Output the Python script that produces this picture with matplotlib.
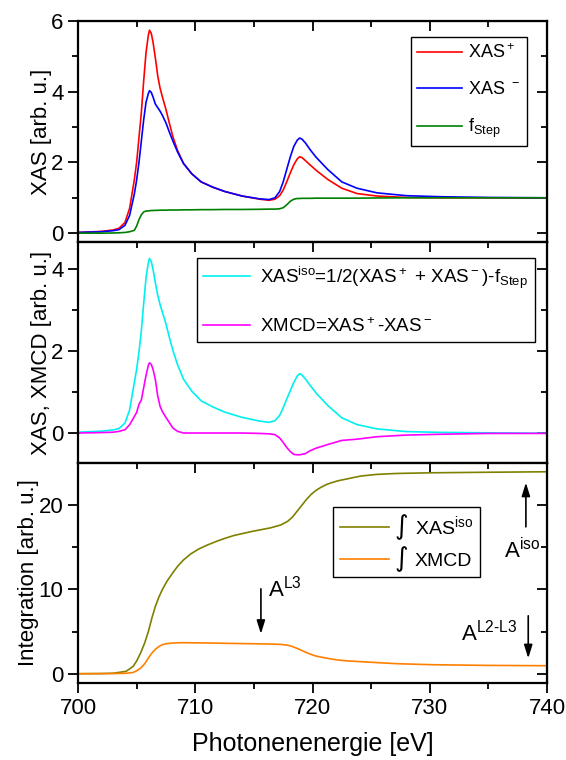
import numpy as np
import matplotlib
matplotlib.use('Agg')
from matplotlib import pyplot as plt
from matplotlib.transforms import IdentityTransform

plt.rcParams['font.family'] = ['Liberation Sans', 'DejaVu Sans']
plt.rcParams['mathtext.fontset'] = 'custom'
plt.rcParams['mathtext.rm'] = 'Liberation Sans'
plt.rcParams['mathtext.default'] = 'regular'

# photon energy grid [eV] and the measured spectra on it
energy = [700, 702, 703, 703.5, 704, 704.4, 704.8, 705.0, 705.2, 705.4,
          705.6, 705.8, 706.0, 706.1, 706.25, 706.4, 706.6, 706.8, 707.0, 707.2,
          707.5, 707.8, 708.1, 708.5, 709.0, 709.7, 710.5, 711.5, 712.5, 714,
          715.5, 716.3, 716.8, 717.2, 717.5, 717.8, 718.1, 718.4, 718.7, 718.9,
          719.1, 719.4, 719.8, 720.3, 721.3, 722.5, 723.8, 725.5, 728, 731,
          735, 740]
xas_plus = [0.02, 0.05, 0.09, 0.14, 0.30, 0.70, 1.50, 2.00, 2.70, 3.40,
            4.30, 5.10, 5.60, 5.74, 5.65, 5.40, 4.95, 4.45, 4.10, 3.85,
            3.50, 3.10, 2.72, 2.33, 1.97, 1.68, 1.45, 1.30, 1.18, 1.05,
            0.96, 0.93, 0.96, 1.06, 1.22, 1.45, 1.70, 1.93, 2.10, 2.16,
            2.14, 2.05, 1.93, 1.78, 1.52, 1.27, 1.12, 1.05, 1.01, 1.00,
            1.00, 0.99]
xas_minus = [0.02, 0.04, 0.07, 0.10, 0.22, 0.50, 1.10, 1.50, 2.00, 2.60,
             3.20, 3.70, 3.95, 4.03, 3.98, 3.85, 3.65, 3.55, 3.45, 3.33,
             3.12, 2.85, 2.60, 2.29, 1.97, 1.68, 1.45, 1.30, 1.18, 1.05,
             0.97, 0.95, 1.00, 1.18, 1.45, 1.80, 2.15, 2.45, 2.63, 2.69,
             2.66, 2.55, 2.36, 2.15, 1.80, 1.45, 1.27, 1.14, 1.06, 1.03,
             1.01, 1.00]
f_step = [0.0, 0.0, 0.005, 0.01, 0.02, 0.04, 0.08, 0.20, 0.38, 0.52,
          0.60, 0.625, 0.63, 0.635, 0.64, 0.64, 0.645, 0.645, 0.65, 0.65,
          0.65, 0.655, 0.655, 0.655, 0.66, 0.66, 0.665, 0.665, 0.67, 0.67,
          0.675, 0.68, 0.68, 0.69, 0.72, 0.80, 0.90, 0.96, 0.98, 0.98,
          0.985, 0.985, 0.985, 0.99, 0.99, 0.99, 0.99, 0.995, 1.0, 1.0,
          1.0, 1.0]

# integrated spectra
int_energy = [700, 702, 703, 704.1, 704.7, 705.0, 705.35, 705.7, 706.0, 706.3,
              706.6, 706.9, 707.2, 707.6, 708.1, 708.5, 709.0, 709.6, 710.3, 711.0,
              711.8, 712.5, 713.3, 714.9, 716.4, 717.3, 717.9, 718.3, 718.7, 719.1,
              719.5, 719.9, 720.3, 720.7, 721.2, 721.6, 722.2, 722.9, 724.1, 725.5,
              727.2, 730.2, 734.8, 740]
int_iso = [0.0, 0.02, 0.06, 0.28, 0.87, 1.5, 2.5, 3.7, 5.0, 6.6,
           8.0, 9.1, 10.0, 11.0, 12.0, 12.75, 13.5, 14.2, 14.8, 15.25,
           15.7, 16.05, 16.4, 16.9, 17.3, 17.65, 18.1, 18.6, 19.3, 20.0,
           20.7, 21.3, 21.75, 22.1, 22.45, 22.65, 22.9, 23.1, 23.45, 23.65,
           23.76, 23.84, 23.9, 23.96]
int_xmcd = [0.0, 0.01, 0.02, 0.05, 0.15, 0.35, 0.67, 1.2, 1.86, 2.45,
            2.9, 3.22, 3.45, 3.58, 3.64, 3.67, 3.68, 3.67, 3.66, 3.65,
            3.63, 3.61, 3.59, 3.56, 3.52, 3.48, 3.38, 3.22, 3.0, 2.75,
            2.5, 2.28, 2.1, 1.98, 1.85, 1.75, 1.62, 1.53, 1.43, 1.32,
            1.19, 1.07, 0.99, 0.95]

E = np.array(energy)
xp = np.array(xas_plus)
xm = np.array(xas_minus)
fs = np.array(f_step)

xas_iso = 0.5 * (xp + xm) - fs
xmcd = xp - xm

fig = plt.figure(figsize=(5.66, 7.6), dpi=100)
left, width = 78 / 566., 469 / 566.
ax1 = fig.add_axes([left, 1 - 242 / 760., width, 221 / 760.])
ax2 = fig.add_axes([left, 1 - 463 / 760., width, 221 / 760.], sharex=ax1)
ax3 = fig.add_axes([left, 1 - 683 / 760., width, 220 / 760.], sharex=ax1)

lw = 1.2
ax1.plot(E, xp, color='#ff0000', lw=lw, label='XAS$^+$')
ax1.plot(E, xm, color='#0000ff', lw=lw, label='XAS $^-$')
ax1.plot(E, fs, color='#008000', lw=lw, label='f$_{Step}$')

ax2.plot(E, xas_iso, color='#00f0f0', lw=lw,
         label='XAS$^{iso}$=1/2(XAS$^+$ + XAS$^-$)-f$_{Step}$')
ax2.plot(E, xmcd, color='#ff00ff', lw=lw, label='XMCD=XAS$^+$-XAS$^-$')

# the integral sign goes into the gap before each label (drawn larger below)
ax3.plot(int_energy, int_iso, color='#808000', lw=lw, label='XAS$^{iso}$')
ax3.plot(int_energy, int_xmcd, color='#ff8000', lw=lw, label='XMCD')

ax1.set_ylim(-0.25, 6)
ax1.set_yticks([0, 2, 4, 6])
ax1.set_yticks([1, 3, 5], minor=True)
ax2.set_ylim(-0.73, 4.65)
ax2.set_yticks([0, 2, 4])
ax2.set_yticks([1, 3], minor=True)
ax3.set_ylim(-1.1, 25)
ax3.set_yticks([0, 10, 20])
ax3.set_yticks([5, 15], minor=True)
ax3.set_xlim(700, 740)
ax3.set_xticks([700, 710, 720, 730, 740])
ax3.set_xticks([705, 715, 725, 735], minor=True)

for ax in (ax1, ax2, ax3):
    for s in ax.spines.values():
        s.set_linewidth(1.6)
    ax.tick_params(axis='both', which='both', labelsize=16, width=1.3)
    ax.tick_params(axis='both', which='major', length=7)
    ax.tick_params(axis='both', which='minor', length=4)
    ax.tick_params(axis='y', which='both', direction='out', right=False)
    ax.tick_params(axis='x', which='both', direction='out', top=False)
    # inward ticks on top and right edges
    sx = ax.secondary_xaxis('top')
    sx.set_xticks([700, 710, 720, 730, 740])
    sx.set_xticks([705, 715, 725, 735], minor=True)
    sx.tick_params(which='both', direction='in', labeltop=False, width=1.3)
    sx.tick_params(which='major', length=7)
    sx.tick_params(which='minor', length=4)
    sy = ax.secondary_yaxis('right')
    sy.set_yticks(ax.get_yticks())
    sy.set_yticks(ax.get_yticks(minor=True), minor=True)
    sy.tick_params(which='both', direction='in', labelright=False, width=1.3)
    sy.tick_params(which='major', length=7)
    sy.tick_params(which='minor', length=4)

ax1.tick_params(axis='x', labelbottom=False)
ax2.tick_params(axis='x', labelbottom=False)

ax1.set_ylabel('XAS [arb. u.]', fontsize=16, labelpad=-0.5)
ax2.set_ylabel('XAS, XMCD [arb. u.]', fontsize=16, labelpad=-0.5)
ax3.set_ylabel('Integration [arb. u.]', fontsize=16, labelpad=-0.5)
ax3.set_xlabel('Photonenenergie [eV]', fontsize=18, labelpad=10)
fig.align_ylabels([ax1, ax2, ax3])

leg_kw = dict(frameon=True, fancybox=False, edgecolor='black',
              framealpha=1, handlelength=2.5, borderpad=0.35,
              borderaxespad=0, loc='upper left')
l1 = ax1.legend(bbox_to_anchor=(0.71, 0.928), labelspacing=1.05,
                handletextpad=0.3, fontsize=13, **leg_kw)
l2 = ax2.legend(bbox_to_anchor=(0.253, 0.928), labelspacing=1.4,
                handletextpad=0.55, fontsize=13.5, **leg_kw)
l3 = ax3.legend(bbox_to_anchor=(0.544, 0.80), labelspacing=0.75,
                handletextpad=1.35, fontsize=14, **leg_kw)
for l in (l1, l2, l3):
    l.get_frame().set_linewidth(1.0)

arrow_kw = dict(arrowstyle='-|>,head_length=0.8,head_width=0.25',
                color='black', lw=1.2)
ax3.annotate('', xy=(715.6, 4.4), xytext=(715.6, 10.4), arrowprops=arrow_kw)
ax3.text(716.2, 9.2, 'A$^{L3}$', fontsize=16)
ax3.annotate('', xy=(738.2, 23.0), xytext=(738.2, 17.1), arrowprops=arrow_kw)
ax3.text(736.3, 13.7, 'A$^{iso}$', fontsize=16)
ax3.annotate('', xy=(738.4, 1.5), xytext=(738.4, 7.2), arrowprops=arrow_kw)
ax3.text(732.7, 4.0, 'A$^{L2\u2010L3}$', fontsize=16)

fig.canvas.draw()
renderer = fig.canvas.get_renderer()
for handle, txt in zip(l3.legend_handles, l3.get_texts()):
    hb = handle.get_window_extent(renderer)
    tb = txt.get_window_extent(renderer)
    fig.text(tb.x0 - 20, 0.5 * (hb.y0 + hb.y1), '\u222b', fontsize=19,
             family='DejaVu Sans', ha='left', va='center',
             transform=IdentityTransform())

fig.savefig('out.png', dpi=100)
